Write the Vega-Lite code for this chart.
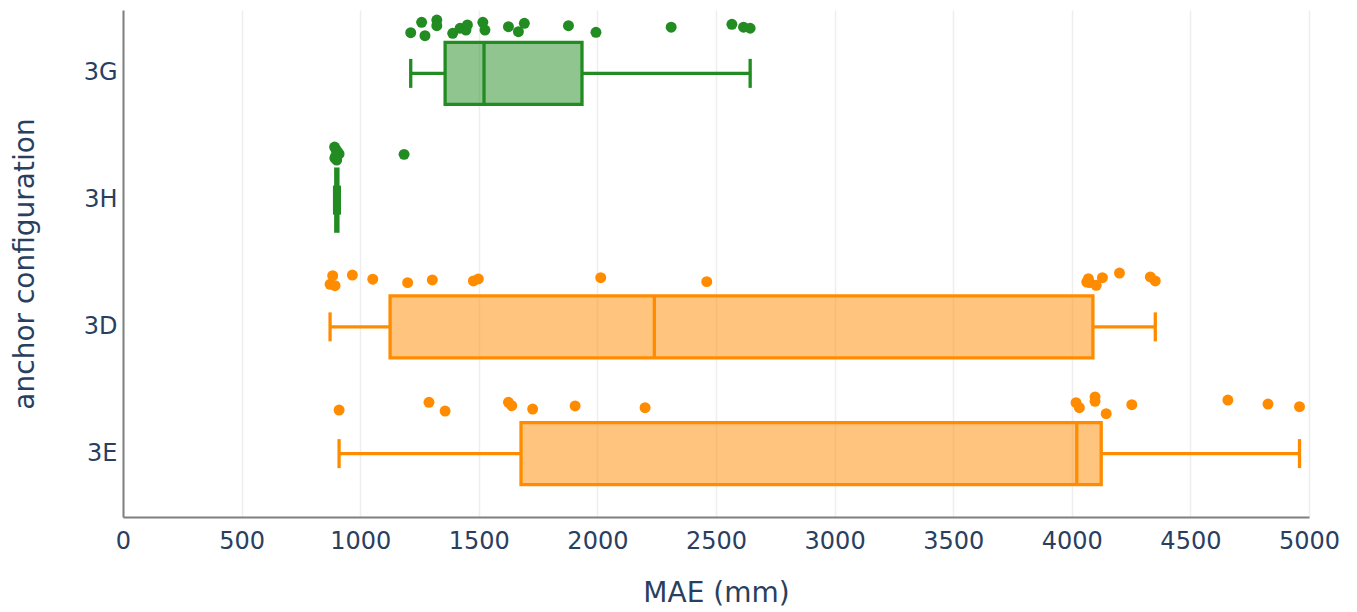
{
  "$schema": "https://vega.github.io/schema/vega-lite/v6.json",
  "width": 1186,
  "height": 507,
  "autosize": {"type": "none"},
  "padding": {"left": 123, "top": 10, "right": 48, "bottom": 95},
  "background": "white",
  "config": {
    "view": {"stroke": null},
    "font": "DejaVu Sans",
    "axis": {
      "labelFont": "DejaVu Sans",
      "titleFont": "DejaVu Sans",
      "labelFontSize": 24,
      "titleFontSize": 28,
      "labelColor": "#2a3f5f",
      "titleColor": "#2a3f5f",
      "titleFontWeight": "normal",
      "ticks": false,
      "domainColor": "#7f7f7f",
      "domainWidth": 2,
      "gridColor": "#eeeeee",
      "gridWidth": 1.5
    }
  },
  "datasets": {
    "boxes": [
      {"anchor": "3G", "lo": 1213, "q1": 1358, "median": 1522, "q3": 1935, "hi": 2644},
      {"anchor": "3H", "lo": 892, "q1": 897, "median": 901, "q3": 906, "hi": 912},
      {"anchor": "3D", "lo": 873, "q1": 1126, "median": 2240, "q3": 4089, "hi": 4352},
      {"anchor": "3E", "lo": 911, "q1": 1678, "median": 4021, "q3": 4124, "hi": 4960}
    ],
    "points": [
      {"anchor": "3G", "mae": 1213, "jitter": -0.321},
      {"anchor": "3G", "mae": 1259, "jitter": -0.403},
      {"anchor": "3G", "mae": 1273, "jitter": -0.297},
      {"anchor": "3G", "mae": 1323, "jitter": -0.421},
      {"anchor": "3G", "mae": 1323, "jitter": -0.376},
      {"anchor": "3G", "mae": 1390, "jitter": -0.316},
      {"anchor": "3G", "mae": 1421, "jitter": -0.356},
      {"anchor": "3G", "mae": 1446, "jitter": -0.342},
      {"anchor": "3G", "mae": 1452, "jitter": -0.382},
      {"anchor": "3G", "mae": 1517, "jitter": -0.403},
      {"anchor": "3G", "mae": 1526, "jitter": -0.342},
      {"anchor": "3G", "mae": 1625, "jitter": -0.368},
      {"anchor": "3G", "mae": 1667, "jitter": -0.329},
      {"anchor": "3G", "mae": 1692, "jitter": -0.395},
      {"anchor": "3G", "mae": 1878, "jitter": -0.376},
      {"anchor": "3G", "mae": 1994, "jitter": -0.324},
      {"anchor": "3G", "mae": 2311, "jitter": -0.364},
      {"anchor": "3G", "mae": 2567, "jitter": -0.387},
      {"anchor": "3G", "mae": 2616, "jitter": -0.364},
      {"anchor": "3G", "mae": 2644, "jitter": -0.356},
      {"anchor": "3H", "mae": 892, "jitter": -0.419},
      {"anchor": "3H", "mae": 899, "jitter": -0.395},
      {"anchor": "3H", "mae": 911, "jitter": -0.364},
      {"anchor": "3H", "mae": 893, "jitter": -0.332},
      {"anchor": "3H", "mae": 901, "jitter": -0.316},
      {"anchor": "3H", "mae": 905, "jitter": -0.379},
      {"anchor": "3H", "mae": 897, "jitter": -0.348},
      {"anchor": "3H", "mae": 1185, "jitter": -0.361},
      {"anchor": "3D", "mae": 873, "jitter": -0.336},
      {"anchor": "3D", "mae": 884, "jitter": -0.404},
      {"anchor": "3D", "mae": 894, "jitter": -0.325},
      {"anchor": "3D", "mae": 967, "jitter": -0.409},
      {"anchor": "3D", "mae": 1053, "jitter": -0.376},
      {"anchor": "3D", "mae": 1200, "jitter": -0.349},
      {"anchor": "3D", "mae": 1304, "jitter": -0.37},
      {"anchor": "3D", "mae": 1477, "jitter": -0.362},
      {"anchor": "3D", "mae": 1498, "jitter": -0.378},
      {"anchor": "3D", "mae": 2014, "jitter": -0.388},
      {"anchor": "3D", "mae": 2461, "jitter": -0.357},
      {"anchor": "3D", "mae": 4063, "jitter": -0.354},
      {"anchor": "3D", "mae": 4070, "jitter": -0.38},
      {"anchor": "3D", "mae": 4075, "jitter": -0.349},
      {"anchor": "3D", "mae": 4103, "jitter": -0.328},
      {"anchor": "3D", "mae": 4129, "jitter": -0.388},
      {"anchor": "3D", "mae": 4201, "jitter": -0.425},
      {"anchor": "3D", "mae": 4331, "jitter": -0.394},
      {"anchor": "3D", "mae": 4352, "jitter": -0.362},
      {"anchor": "3E", "mae": 911, "jitter": -0.344},
      {"anchor": "3E", "mae": 1290, "jitter": -0.405},
      {"anchor": "3E", "mae": 1358, "jitter": -0.336},
      {"anchor": "3E", "mae": 1625, "jitter": -0.405},
      {"anchor": "3E", "mae": 1639, "jitter": -0.378},
      {"anchor": "3E", "mae": 1727, "jitter": -0.352},
      {"anchor": "3E", "mae": 1906, "jitter": -0.376},
      {"anchor": "3E", "mae": 2201, "jitter": -0.362},
      {"anchor": "3E", "mae": 4018, "jitter": -0.402},
      {"anchor": "3E", "mae": 4032, "jitter": -0.362},
      {"anchor": "3E", "mae": 4098, "jitter": -0.447},
      {"anchor": "3E", "mae": 4098, "jitter": -0.413},
      {"anchor": "3E", "mae": 4145, "jitter": -0.315},
      {"anchor": "3E", "mae": 4253, "jitter": -0.386},
      {"anchor": "3E", "mae": 4658, "jitter": -0.423},
      {"anchor": "3E", "mae": 4827, "jitter": -0.391},
      {"anchor": "3E", "mae": 4960, "jitter": -0.37}
    ]
  },
  "encoding": {
    "y": {
      "field": "anchor",
      "type": "nominal",
      "scale": {"domain": ["3G", "3H", "3D", "3E"], "paddingInner": 0, "paddingOuter": 0},
      "axis": {
        "title": "anchor configuration",
        "bandPosition": 0.5,
        "labelPadding": 6,
        "titleX": -98,
        "titleY": 253.5,
        "titleAlign": "center",
        "titleBaseline": "middle",
        "titleAngle": -90
      }
    },
    "color": {
      "field": "anchor",
      "type": "nominal",
      "scale": {"domain": ["3G", "3H", "3D", "3E"], "range": ["#228B22", "#228B22", "#FF8C00", "#FF8C00"]},
      "legend": null
    }
  },
  "layer": [
    {
      "data": {"name": "boxes"},
      "mark": {"type": "rule", "strokeWidth": 3.3},
      "encoding": {
        "x": {
          "field": "lo",
          "type": "quantitative",
          "scale": {"domain": [0, 5000], "nice": false},
          "axis": {
            "title": "MAE (mm)",
            "values": [0, 500, 1000, 1500, 2000, 2500, 3000, 3500, 4000, 4500, 5000],
            "format": "d",
            "labelPadding": 12,
            "labelOverlap": false,
            "labelFlush": false,
            "titleX": 593,
            "titleY": 84,
            "titleAlign": "center",
            "titleBaseline": "alphabetic"
          }
        },
        "x2": {"field": "q1"}
      }
    },
    {
      "data": {"name": "boxes"},
      "mark": {"type": "rule", "strokeWidth": 3.3},
      "encoding": {
        "x": {"field": "q3", "type": "quantitative"},
        "x2": {"field": "hi"}
      }
    },
    {
      "data": {"name": "boxes"},
      "mark": {"type": "bar", "size": 62, "fillOpacity": 0.5, "strokeWidth": 3.3},
      "encoding": {
        "x": {"field": "q1", "type": "quantitative"},
        "x2": {"field": "q3"},
        "stroke": {
          "field": "anchor",
          "type": "nominal",
          "scale": {"domain": ["3G", "3H", "3D", "3E"], "range": ["#228B22", "#228B22", "#FF8C00", "#FF8C00"]},
          "legend": null
        }
      }
    },
    {
      "data": {"name": "boxes"},
      "mark": {"type": "tick", "size": 29, "thickness": 3.3, "opacity": 1},
      "encoding": {"x": {"field": "lo", "type": "quantitative"}}
    },
    {
      "data": {"name": "boxes"},
      "mark": {"type": "tick", "size": 29, "thickness": 3.3, "opacity": 1},
      "encoding": {"x": {"field": "hi", "type": "quantitative"}}
    },
    {
      "data": {"name": "boxes"},
      "mark": {"type": "tick", "size": 62, "thickness": 3.3, "opacity": 1},
      "encoding": {"x": {"field": "median", "type": "quantitative"}}
    },
    {
      "data": {"name": "points"},
      "mark": {"type": "circle", "size": 120, "opacity": 1},
      "encoding": {
        "x": {"field": "mae", "type": "quantitative"},
        "yOffset": {
          "field": "jitter",
          "type": "quantitative",
          "scale": {"domain": [-0.5, 0.5], "range": [0, 126.75]}
        }
      }
    }
  ]
}
